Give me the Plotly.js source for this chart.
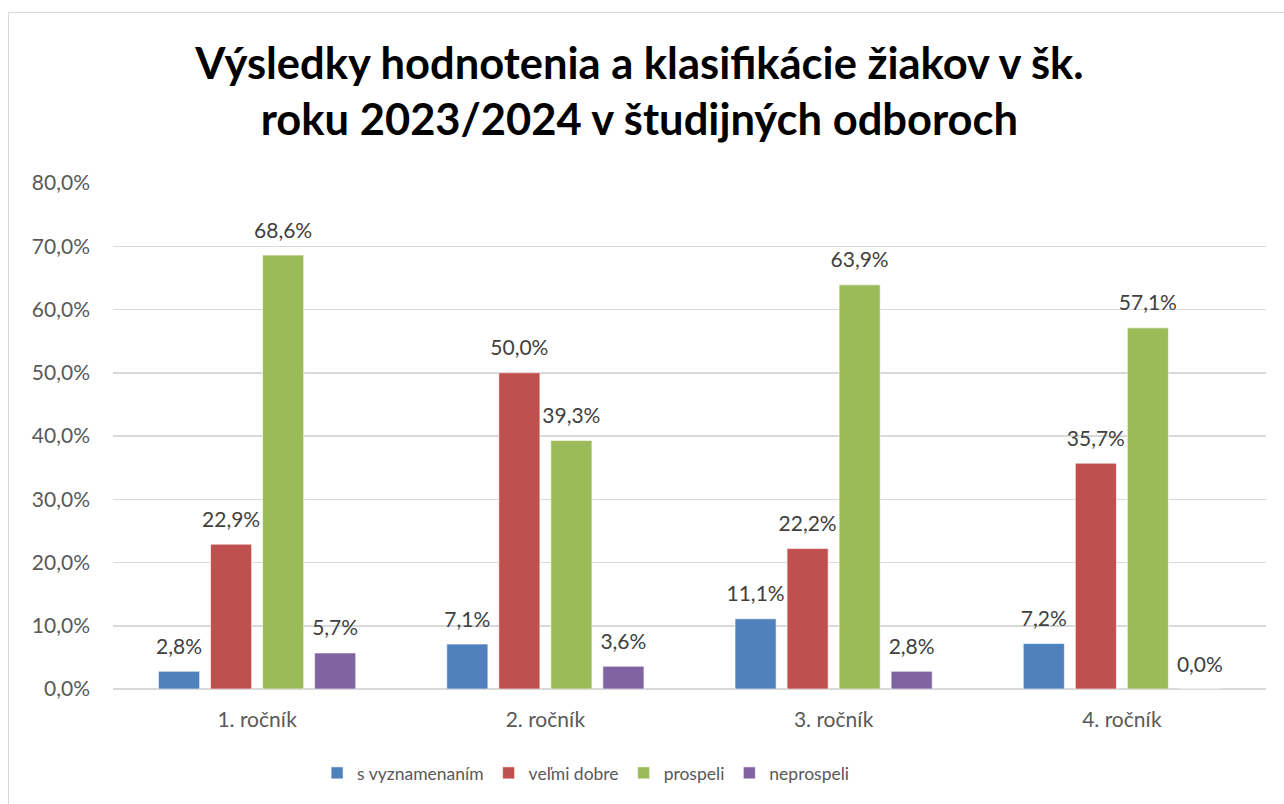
<!DOCTYPE html>
<html>
<head>
<meta charset="utf-8">
<script src="https://cdn.plot.ly/plotly-3.0.1.min.js"></script>
<style>
  html, body { margin: 0; padding: 0; background: #ffffff; }
  #wrap { position: relative; width: 1284px; height: 804px; overflow: hidden; }
  #chart { position: absolute; left: 0; top: 0; width: 1284px; height: 804px; }
  #frame { position: absolute; left: 8px; top: 12px; width: 1300px; height: 820px;
           border: 1.5px solid #d9d9d9; pointer-events: none; box-sizing: border-box; }
</style>
</head>
<body>
<div id="wrap">
  <div id="chart"></div>
  <div id="frame"></div>
</div>
<script>
// ---- data ----
const categories = ['1. ročník', '2. ročník', '3. ročník', '4. ročník'];
const seriesNames = ['s vyznamenaním', 'veľmi dobre', 'prospeli', 'neprospeli'];
const sVyznamenanim = [2.8, 7.1, 11.1, 7.2];
const velmiDobre = [22.9, 50.0, 22.2, 35.7];
const prospeli = [68.6, 39.3, 63.9, 57.1];
const neprospeli = [5.7, 3.6, 2.8, 0.0];
const yTickValues = [0, 10, 20, 30, 40, 50, 60, 70, 80];
const yTickLabels = ['0,0%', '10,0%', '20,0%', '30,0%', '40,0%', '50,0%', '60,0%', '70,0%', '80,0%'];
const titleText = 'Výsledky hodnotenia a klasifikácie žiakov v šk.<br>roku 2023/2024 v študijných odboroch';

const seriesValues = [sVyznamenanim, velmiDobre, prospeli, neprospeli];
const colors = ['#4F81BD', '#C0504D', '#9BBB59', '#8064A2'];
const FONT = 'Lato, Open Sans, sans-serif';

const traces = [];
seriesValues.forEach((vals, i) => {
  traces.push({
    type: 'bar',
    name: seriesNames[i],
    x: categories,
    y: vals,
    offsetgroup: 'g' + i,
    marker: { color: colors[i], line: { color: 'rgba(255,255,255,0.6)', width: 1 } },
    hoverinfo: 'skip'
  });
});
seriesValues.forEach((vals, i) => {
  traces.push({
    type: 'scatter',
    mode: 'markers+text',
    x: categories,
    y: vals,
    offsetgroup: 'g' + i,
    showlegend: false,
    marker: { size: 18, opacity: 0 },
    texttemplate: '%{y:.1f}%',
    textposition: 'top center',
    textfont: { family: FONT, size: 21, color: '#404040' },
    cliponaxis: false,
    hoverinfo: 'skip'
  });
});

const layout = {
  width: 1284,
  height: 804,
  paper_bgcolor: '#ffffff',
  plot_bgcolor: '#ffffff',
  separators: ', ',
  margin: { l: 113, r: 18, t: 183, b: 115 },
  title: {
    text: titleText,
    font: { family: FONT, size: 43.5, color: '#000000', weight: 700 },
    x: 0.498, xanchor: 'center',
    y: 0.902, yanchor: 'top'
  },
  barmode: 'group',
  bargap: 0.278,
  bargroupgap: 0.21,
  scattermode: 'group',
  scattergap: 0.278,
  xaxis: {
    type: 'category',
    tickfont: { family: FONT, size: 21, color: '#595959' },
    showline: false,
    ticks: '',
    ticklabelstandoff: 16
  },
  yaxis: {
    range: [0, 80],
    tickvals: yTickValues,
    ticktext: yTickLabels,
    tickfont: { family: FONT, size: 21, color: '#595959' },
    gridcolor: '#d9d9d9',
    gridwidth: 1.5,
    zeroline: true,
    zerolinecolor: '#d9d9d9',
    zerolinewidth: 2,
    showline: false,
    ticks: '',
    ticklabelstandoff: 22
  },
  legend: {
    orientation: 'h',
    x: 0.177, xanchor: 'left',
    y: -0.166, yanchor: 'middle',
    font: { family: FONT, size: 17.5, color: '#595959' },
    itemwidth: 30,
    traceorder: 'normal'
  },
  showlegend: true
};

Plotly.newPlot('chart', traces, layout, { displayModeBar: false, staticPlot: true });
</script>
</body>
</html>
